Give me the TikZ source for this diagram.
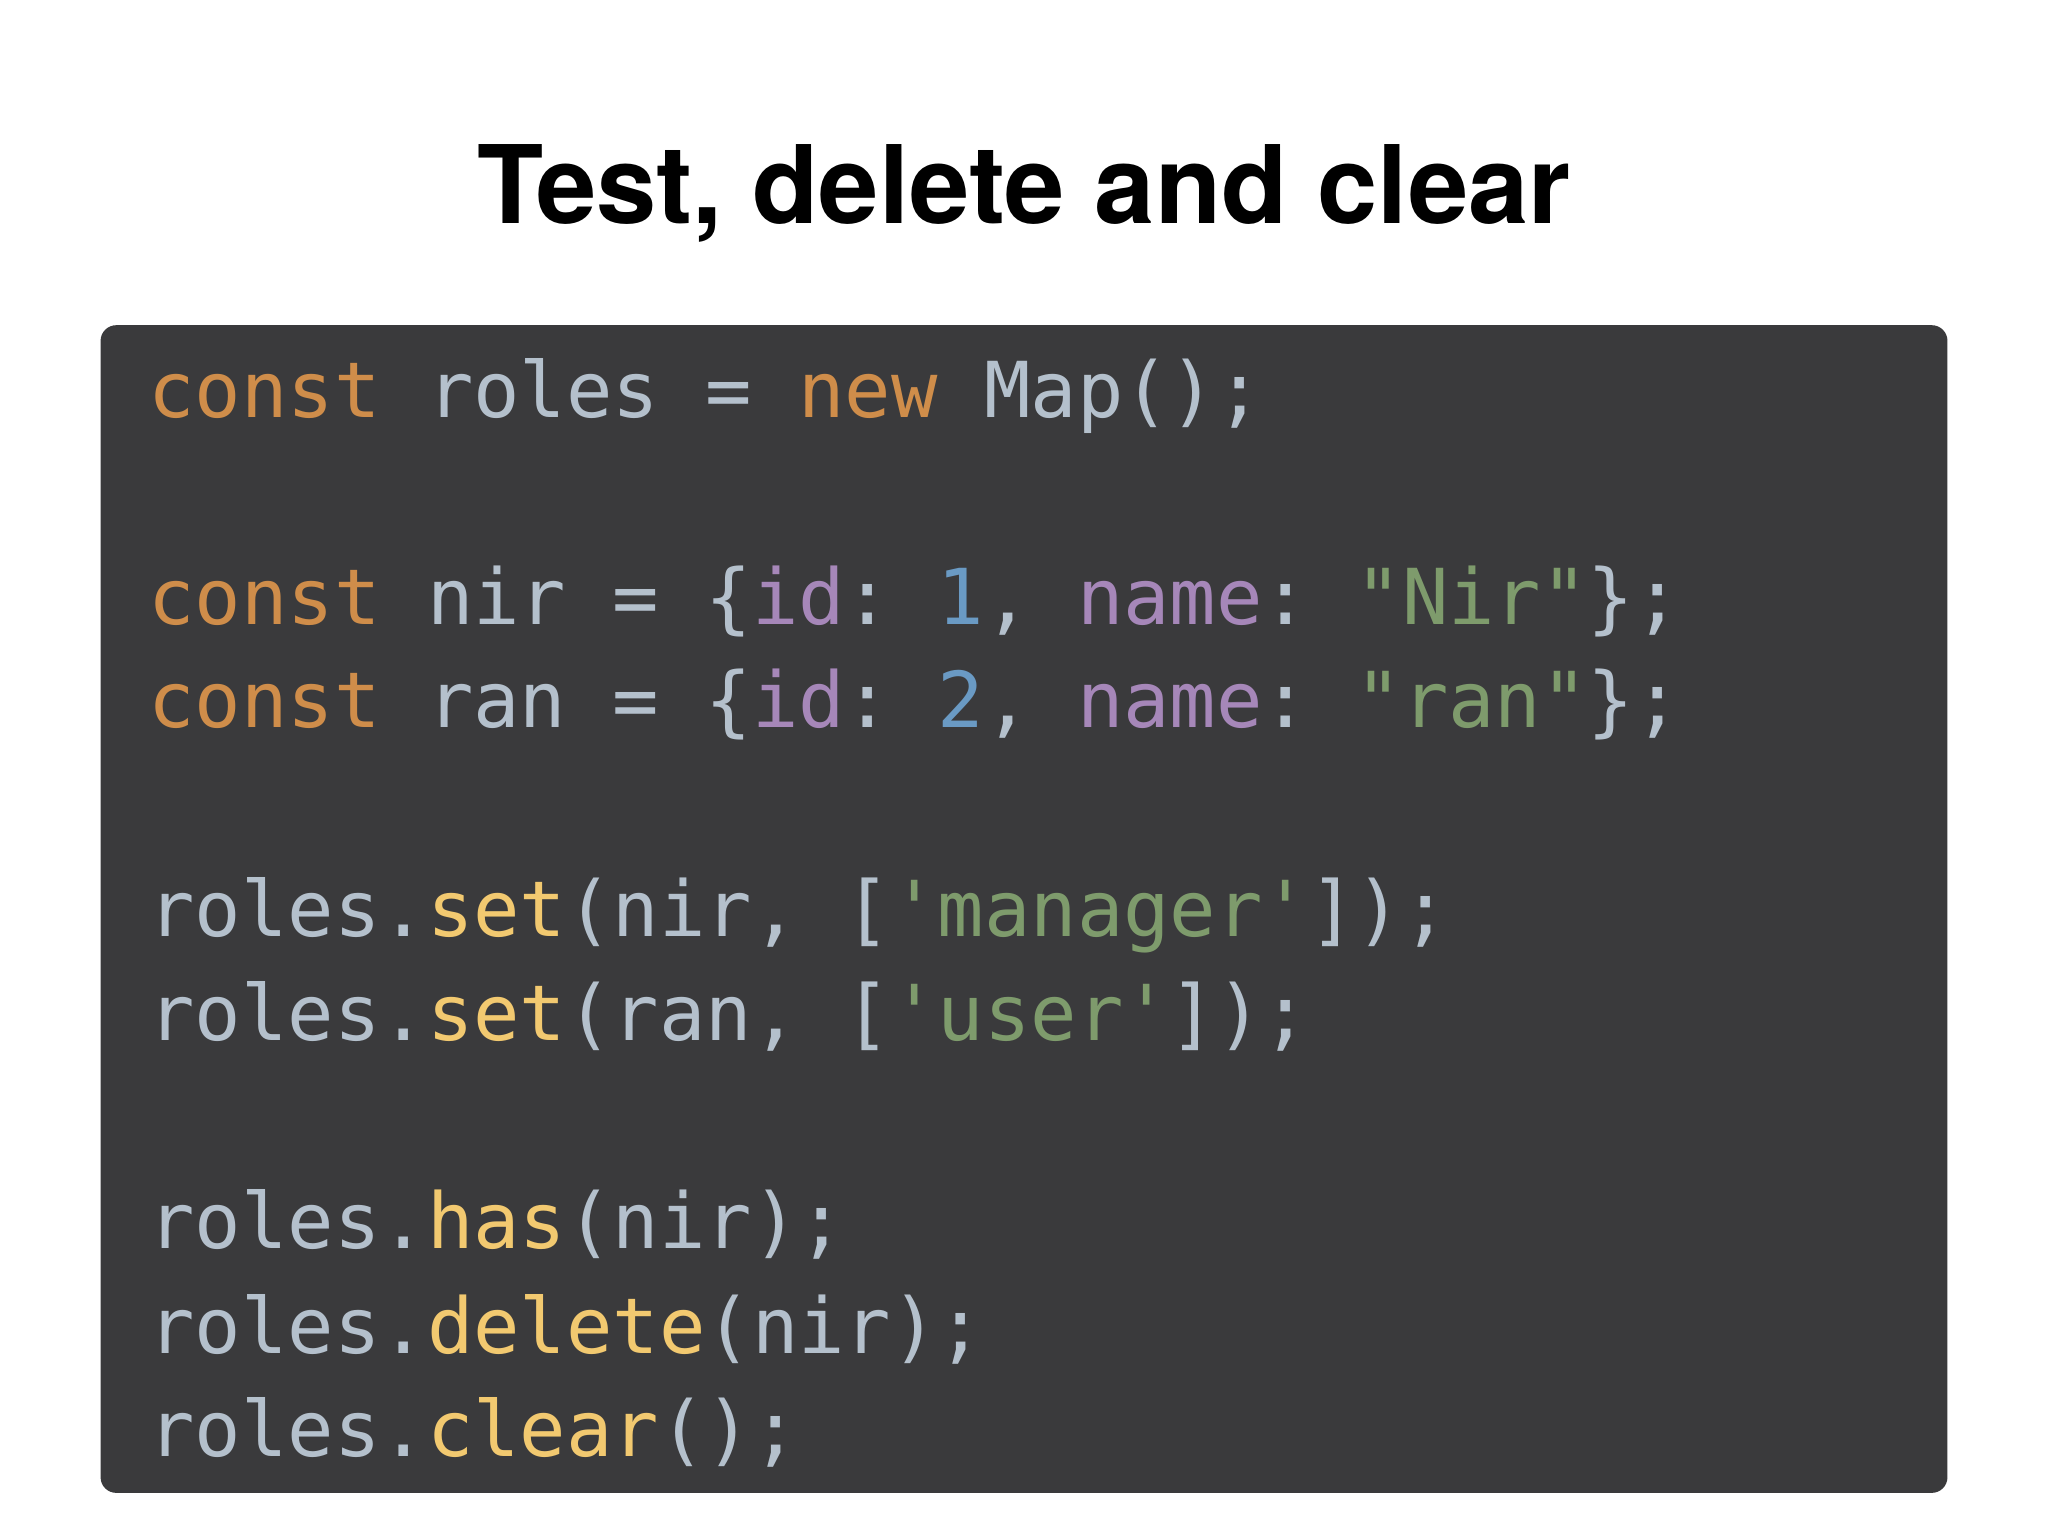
\documentclass[tikz,border=0pt]{standalone}
\usepackage{fontspec}
\setmainfont{TeX Gyre Heros}
\setmonofont{DejaVu Sans Mono}
\usetikzlibrary{positioning}
\definecolor{codebg}{HTML}{3A3A3C}
\definecolor{kwcol}{HTML}{CF8D4A}
\definecolor{plaincol}{HTML}{B4C0CC}
\definecolor{fncol}{HTML}{F2C970}
\definecolor{propcol}{HTML}{A687B9}
\definecolor{strcol}{HTML}{7E9B6C}
\definecolor{numcol}{HTML}{6A9AC4}
\newcommand{\kw}[1]{\textcolor{kwcol}{#1}}
\newcommand{\fn}[1]{\textcolor{fncol}{#1}}
\newcommand{\prop}[1]{\textcolor{propcol}{#1}}
\newcommand{\str}[1]{\textcolor{strcol}{#1}}
\newcommand{\num}[1]{\textcolor{numcol}{#1}}
\begin{document}
\begin{tikzpicture}[
    codeline/.style={anchor=base west, inner sep=0pt, text=plaincol,
      font=\ttfamily\fontsize{16.8pt}{20pt}\selectfont}
]
    \useasboundingbox (0,0) rectangle (15.68,11.76);
    \node[font=\bfseries\fontsize{23.6pt}{28pt}\selectfont] (title) at (7.84,10.28) {Test, delete and clear};
    \fill[codebg, rounded corners=0.12cm] (0.77,0.33) rectangle (14.91,9.27);

    \node[codeline] (l1) at (1.13,8.56) {\kw{const} roles = \kw{new} Map();};
    \node[codeline] (l3) at (1.13,6.98) {\kw{const} nir = \{\prop{id}: \num{1}, \prop{name}: \str{"Nir"}\};};
    \node[codeline] (l4) at (1.13,6.19) {\kw{const} ran = \{\prop{id}: \num{2}, \prop{name}: \str{"ran"}\};};
    \node[codeline] (l6) at (1.13,4.59) {roles.\fn{set}(nir, [\str{'manager'}]);};
    \node[codeline] (l7) at (1.13,3.79) {roles.\fn{set}(ran, [\str{'user'}]);};
    \node[codeline] (l9) at (1.13,2.20) {roles.\fn{has}(nir);};
    \node[codeline] (l10) at (1.13,1.40) {roles.\fn{delete}(nir);};
    \node[codeline] (l11) at (1.13,0.61) {roles.\fn{clear}();};
\end{tikzpicture}
\end{document}
